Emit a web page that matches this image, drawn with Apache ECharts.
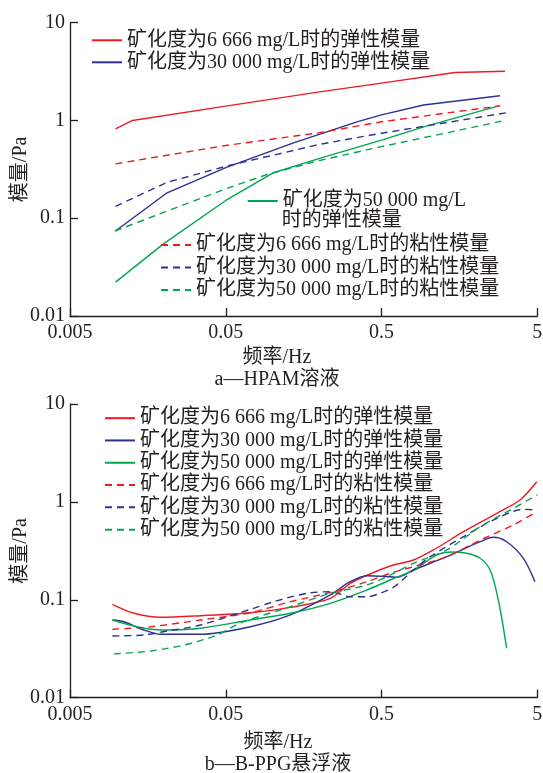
<!DOCTYPE html>
<html><head><meta charset="utf-8">
<script src="https://cdn.jsdelivr.net/npm/echarts@6/dist/echarts.min.js"></script>
<style>html,body{margin:0;padding:0;background:#fff}#c{width:543px;height:773px}</style>
</head><body><div id="c"></div>
<script>
// ---------- names ----------
const seriesNames = [
  '矿化度为6 666 mg/L时的弹性模量',
  '矿化度为30 000 mg/L时的弹性模量',
  '矿化度为50 000 mg/L时的弹性模量',
  '矿化度为6 666 mg/L时的粘性模量',
  '矿化度为30 000 mg/L时的粘性模量',
  '矿化度为50 000 mg/L时的粘性模量'
];
const xTickLabels = ['0.005', '0.05', '0.5', '5'];
const yTickLabels = ['0.01', '0.1', '1', '10'];
const xName = '频率/Hz';
const yName = '模量/Pa';
const captionA = 'a—HPAM溶液';
const captionB = 'b—B-PPG悬浮液';

// ---------- chart a: HPAM (frequency Hz, modulus Pa) ----------
const aElastic6666F = [0.0098, 0.0126, 0.05, 0.2, 0.5, 1.48, 3.1];
const aElastic6666V = [0.82, 1.0, 1.4, 1.96, 2.41, 3.09, 3.19];
const aElastic30000F = [0.0098, 0.021, 0.05, 0.136, 0.356, 0.5, 0.93, 2.88];
const aElastic30000V = [0.074, 0.182, 0.33, 0.59, 0.98, 1.14, 1.44, 1.79];
const aElastic50000F = [0.0098, 0.02, 0.05, 0.1, 0.2, 0.5, 0.98, 2.87];
const aElastic50000V = [0.0222, 0.055, 0.152, 0.29, 0.41, 0.63, 0.88, 1.42];
const aViscous6666F = [0.0098, 0.05, 0.2, 0.5, 2.88];
const aViscous6666V = [0.36, 0.555, 0.75, 0.97, 1.41];
const aViscous30000F = [0.0098, 0.021, 0.05, 0.2, 0.5, 3.38];
const aViscous30000V = [0.1325, 0.233, 0.34, 0.57, 0.74, 1.22];
const aViscous50000F = [0.0097, 0.05, 0.092, 0.2, 0.5, 3.1];
const aViscous50000V = [0.074, 0.2, 0.28, 0.39, 0.54, 1.0];

// ---------- chart b: B-PPG ----------
const bElastic6666F = [0.00935, 0.0129, 0.0191, 0.0344, 0.072, 0.13, 0.2345, 0.315, 0.383, 0.568, 0.802, 1.077, 1.68, 2.75, 3.87, 4.96];
const bElastic6666V = [0.090, 0.0728, 0.0663, 0.0688, 0.0738, 0.0838, 0.1036, 0.1474, 0.172, 0.2215, 0.255, 0.323, 0.496, 0.765, 1.046, 1.608];
const bElastic30000F = [0.00935, 0.0111, 0.0149, 0.0191, 0.0344, 0.072, 0.13, 0.2345, 0.315, 0.403, 0.568, 0.628, 0.802, 1.31, 2.15, 2.61, 3.18, 4.07, 4.83];
const bElastic30000V = [0.0622, 0.0597, 0.0491, 0.0444, 0.0444, 0.0531, 0.070, 0.112, 0.153, 0.176, 0.172, 0.1697, 0.2015, 0.2756, 0.392, 0.435, 0.392, 0.2654, 0.153];
const bElastic50000F = [0.00935, 0.0149, 0.02105, 0.0344, 0.072, 0.13, 0.2345, 0.403, 0.568, 0.802, 1.13, 1.38, 1.76, 2.15, 2.49, 2.81, 3.18];
const bElastic50000V = [0.0622, 0.0512, 0.0491, 0.0512, 0.0622, 0.0728, 0.0921, 0.126, 0.1593, 0.2015, 0.287, 0.308, 0.2985, 0.2654, 0.2015, 0.0995, 0.032];
const bViscous6666F = [0.00935, 0.01646, 0.0344, 0.072, 0.13, 0.246, 0.403, 0.568, 0.802, 1.31, 2.15, 3.51, 4.96];
const bViscous6666V = [0.050, 0.0531, 0.0622, 0.0738, 0.0956, 0.121, 0.153, 0.1865, 0.218, 0.2756, 0.408, 0.581, 0.794];
const bViscous30000F = [0.00935, 0.0149, 0.02105, 0.0344, 0.072, 0.1016, 0.166, 0.2345, 0.315, 0.403, 0.49, 0.6, 0.802, 1.026, 1.68, 2.75, 4.07, 4.96];
const bViscous30000V = [0.0427, 0.0437, 0.048, 0.0553, 0.080, 0.0956, 0.1165, 0.121, 0.1076, 0.1076, 0.1165, 0.135, 0.2015, 0.2756, 0.441, 0.680, 0.840, 0.827];
const bViscous50000F = [0.00957, 0.01646, 0.0269, 0.044, 0.062, 0.13, 0.2345, 0.403, 0.568, 0.802, 1.31, 2.15, 3.51, 5.0];
const bViscous50000V = [0.028, 0.030, 0.0345, 0.0437, 0.058, 0.085, 0.1165, 0.1416, 0.179, 0.236, 0.323, 0.558, 0.860, 1.18];

// ---------- styles ----------
const FONT = "'Liberation Serif','Noto Sans CJK SC',serif";
const TXT = '#231f20';
const colors = ['#ed1c24', '#2e3192', '#00a651', '#ed1c24', '#2e3192', '#00a651'];
const X0 = 0.005;
const toX = f => Math.log10(f / X0);

const chartA = [
  [aElastic6666F, aElastic6666V], [aElastic30000F, aElastic30000V], [aElastic50000F, aElastic50000V],
  [aViscous6666F, aViscous6666V], [aViscous30000F, aViscous30000V], [aViscous50000F, aViscous50000V]
];
const chartB = [
  [bElastic6666F, bElastic6666V], [bElastic30000F, bElastic30000V], [bElastic50000F, bElastic50000V],
  [bViscous6666F, bViscous6666V], [bViscous30000F, bViscous30000V], [bViscous50000F, bViscous50000V]
];

function mkSeries(set, idx, smooth) {
  return set.map((pair, i) => ({
    type: 'line',
    name: seriesNames[i],
    xAxisIndex: idx, yAxisIndex: idx,
    data: pair[0].map((f, k) => [toX(f), pair[1][k]]),
    showSymbol: false, symbol: 'none',
    smooth: smooth,
    lineStyle: { color: colors[i], width: 1.4, type: i >= 3 ? [7, 5] : 'solid' },
    itemStyle: { color: colors[i] },
    animation: false
  }));
}

function xAx(gi) {
  return {
    type: 'value', gridIndex: gi, min: 0, max: 3, interval: 1,
    axisLine: { lineStyle: { color: TXT, width: 1.3 } },
    axisTick: { inside: true, length: 8, lineStyle: { color: TXT, width: 1.3 } },
    axisLabel: { margin: 7, fontSize: 20, fontFamily: FONT, color: TXT,
      formatter: v => xTickLabels[Math.round(v)] },
    splitLine: { show: false }
  };
}
function yAx(gi) {
  return {
    type: 'log', logBase: 10, gridIndex: gi, min: 0.01, max: 10,
    name: yName, nameLocation: 'middle', nameGap: 39, nameMoveOverlap: false,
    nameTextStyle: { fontSize: 20, fontFamily: FONT, color: TXT },
    axisLine: { show: true, lineStyle: { color: TXT, width: 1.3 } },
    axisTick: { show: true, inside: true, length: 8, lineStyle: { color: TXT, width: 1.3 } },
    axisLabel: { margin: 5, fontSize: 20, fontFamily: FONT, color: TXT,
      formatter: v => yTickLabels[Math.round(Math.log10(v)) + 2] },
    splitLine: { show: false }
  };
}

const legendText = (lh) => ({ fontSize: 20, fontFamily: FONT, color: TXT, lineHeight: lh });
const legBase = { orient: 'vertical', itemWidth: 30, itemHeight: 14, itemGap: 0, padding: 0, selectedMode: false,
  itemStyle: { opacity: 0 } };

const option = {
  animation: false,
  backgroundColor: '#fff',
  grid: [
    { left: 70, top: 22.7, width: 467.3, height: 293.3, outerBoundsMode: 'none', containLabel: false },
    { left: 70, top: 404, width: 467.3, height: 293.7, outerBoundsMode: 'none', containLabel: false }
  ],
  xAxis: [xAx(0), xAx(1)],
  yAxis: [yAx(0), yAx(1)],
  legend: [
    Object.assign({}, legBase, { data: [seriesNames[0], seriesNames[1]], left: 91, top: 29.3, textStyle: legendText(22) }),
    Object.assign({}, legBase, { data: [seriesNames[2]], left: 246.7, top: 190, textStyle: legendText(22),
      formatter: n => n.replace('时的弹性模量', '') }),
    Object.assign({}, legBase, { data: [seriesNames[3], seriesNames[4], seriesNames[5]], left: 160, top: 233.7, textStyle: legendText(22.5) }),
    Object.assign({}, legBase, { data: seriesNames.slice(), left: 104, top: 407, textStyle: legendText(22.3) })
  ],
  graphic: [
    { type: 'text', left: 281.7, top: 211, style: { text: '时的弹性模量', font: "20px " + FONT, fill: TXT } },
    { type: 'text', x: 277, y: 358, style: { text: xName, font: "20px " + FONT, fill: TXT, align: 'center', verticalAlign: 'middle' } },
    { type: 'text', x: 277, y: 380, style: { text: captionA, font: "20px " + FONT, fill: TXT, align: 'center', verticalAlign: 'middle' } },
    { type: 'text', x: 278, y: 743, style: { text: xName, font: "20px " + FONT, fill: TXT, align: 'center', verticalAlign: 'middle' } },
    { type: 'text', x: 278, y: 765, style: { text: captionB, font: "20px " + FONT, fill: TXT, align: 'center', verticalAlign: 'middle' } }
  ],
  series: mkSeries(chartA, 0, false).concat(mkSeries(chartB, 1, 0.3))
};

const chart = echarts.init(document.getElementById('c'), null, { renderer: 'canvas' });
chart.setOption(option);
</script>
</body></html>
